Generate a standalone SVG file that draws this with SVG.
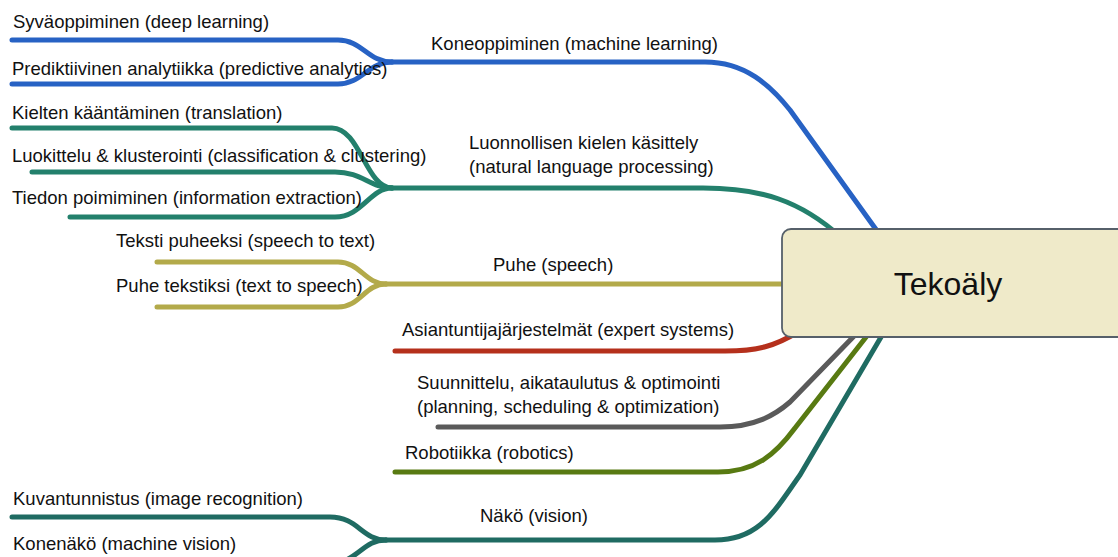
<svg xmlns="http://www.w3.org/2000/svg" width="1118" height="557" viewBox="0 0 1118 557">
<style>
.t{font-family:"Liberation Sans",Arial,Helvetica,sans-serif;font-size:18.5px;fill:#111}
.c{fill:none;stroke-width:5;stroke-linecap:round;stroke-linejoin:round}
.ml{stroke:#2762c4}
.nlp{stroke:#23806c}
.sp{stroke:#b3aa4a}
.ex{stroke:#b5301c}
.pl{stroke:#5a5a5a}
.ro{stroke:#587a12}
.vi{stroke:#1f6b62}
</style>
<rect width="1118" height="557" fill="#fff"/>
<g id="connectors">
  <!-- machine learning -->
  <path class="c ml" d="M12,40 H338 C362,40 368,62 392,62"/>
  <path class="c ml" d="M12,84 H338 C362,84 368,62 392,62"/>
  <path class="c ml" d="M392,62 H705 C745,62 770,85 790,110 L880,235"/>
  <!-- NLP -->
  <path class="c nlp" d="M12,128 H332 C360,128 366,188 392,188"/>
  <path class="c nlp" d="M32,172 H335 C362,172 370,188 392,188"/>
  <path class="c nlp" d="M70,217 H335 C362,217 370,188 392,188"/>
  <path class="c nlp" d="M392,188 H703 C760,188 800,200 842,238"/>
  <!-- speech -->
  <path class="c sp" d="M157,262 H338 C360,262 365,284 386,284"/>
  <path class="c sp" d="M157,307 H338 C360,307 365,284 386,284"/>
  <path class="c sp" d="M386,284 H790"/>
  <!-- expert systems -->
  <path class="c ex" d="M395,351 H725 C758,351 775,346 798,332"/>
  <!-- planning -->
  <path class="c pl" d="M438,427 H720 C755,427 775,415 790,402 L858,332"/>
  <!-- robotics -->
  <path class="c ro" d="M395,472 H718 C755,472 775,455 795,428 L870,332"/>
  <!-- vision -->
  <path class="c vi" d="M12,517 H330 C358,517 362,540 386,540"/>
  <path class="c vi" d="M12,563 H330 C358,563 362,540 386,540"/>
  <path class="c vi" d="M386,540 H715 C760,540 775,510 800,475 L884,332"/>
</g>
<g id="root">
  <rect x="782" y="229" width="350" height="108" rx="9" fill="#efeac9" stroke="#56606a" stroke-width="1.8"/>
  <text x="948" y="295" text-anchor="middle" style="font-family:'Liberation Sans',Arial,sans-serif;font-size:32px;fill:#111">Tekoäly</text>
</g>
<g id="n-ml"><text class="t" x="431" y="50">Koneoppiminen (machine learning)</text></g>
<g id="n-dl"><text class="t" x="13" y="28">Syväoppiminen (deep learning)</text></g>
<g id="n-pa"><text class="t" x="12" y="75">Prediktiivinen analytiikka (predictive analytics)</text></g>
<g id="n-nlp"><text class="t" x="469" y="149">Luonnollisen kielen käsittely</text><text class="t" x="469" y="173">(natural language processing)</text></g>
<g id="n-tr"><text class="t" x="12" y="119">Kielten kääntäminen (translation)</text></g>
<g id="n-cl"><text class="t" x="12" y="162">Luokittelu &amp; klusterointi (classification &amp; clustering)</text></g>
<g id="n-ie"><text class="t" x="12" y="204">Tiedon poimiminen (information extraction)</text></g>
<g id="n-sp"><text class="t" x="493" y="271">Puhe (speech)</text></g>
<g id="n-stt"><text class="t" x="116" y="247">Teksti puheeksi (speech to text)</text></g>
<g id="n-tts"><text class="t" x="116" y="292">Puhe tekstiksi (text to speech)</text></g>
<g id="n-ex"><text class="t" x="402" y="336">Asiantuntijajärjestelmät (expert systems)</text></g>
<g id="n-pl"><text class="t" x="417" y="389">Suunnittelu, aikataulutus &amp; optimointi</text><text class="t" x="417" y="413">(planning, scheduling &amp; optimization)</text></g>
<g id="n-ro"><text class="t" x="405" y="459">Robotiikka (robotics)</text></g>
<g id="n-vi"><text class="t" x="480" y="522">Näkö (vision)</text></g>
<g id="n-ir"><text class="t" x="13" y="505">Kuvantunnistus (image recognition)</text></g>
<g id="n-mv"><text class="t" x="13" y="550">Konenäkö (machine vision)</text></g>
</svg>
